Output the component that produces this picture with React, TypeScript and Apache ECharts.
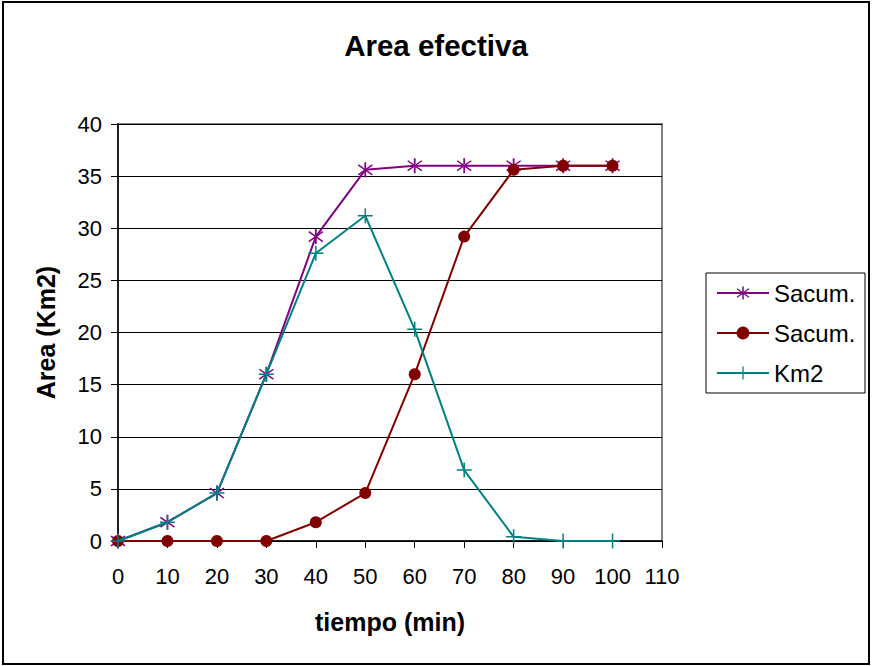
import React, { useEffect, useRef } from "react";
import * as echarts from "echarts";

// Time steps (min) and the three area curves (Km2)
const tiempo = [0, 10, 20, 30, 40, 50, 60, 70, 80, 90, 100];
const sacumA = [0, 1.8, 4.6, 16, 29.2, 35.6, 36, 36, 36, 36, 36];
const sacumB = [0, 0, 0, 0, 1.8, 4.6, 16, 29.2, 35.6, 36, 36];
const km2 = [0, 1.8, 4.6, 16, 27.6, 31.2, 20.3, 6.8, 0.4, 0, 0];

const seriesKeys = ["sacumA", "sacumB", "km2"];
const legendLabels: Record<string, string> = {
  sacumA: "Sacum.",
  sacumB: "Sacum.",
  km2: "Km2",
};

const FONT = "'Liberation Sans', Arial, sans-serif";

// Asterisk: vertical bar plus two diagonal bars
const ASTERISK =
  "path://M9,0 L11,0 L11,20 L9,20 Z M1.5,4.2 L2.5,2.6 L18.5,15.8 L17.5,17.4 Z M1.5,15.8 L2.5,17.4 L18.5,4.2 L17.5,2.6 Z";
const PLUS = "path://M9,0 L11,0 L11,20 L9,20 Z M0,9 L20,9 L20,11 L0,11 Z";

const pairs = (ys: number[]) => tiempo.map((t, i) => [t, ys[i]]);

export default function App() {
  const ref = useRef<HTMLDivElement>(null);

  useEffect(() => {
    if (!ref.current) return;
    const chart = echarts.init(ref.current, undefined, { renderer: "svg" });
    chart.setOption({
      animation: false,
      backgroundColor: "#ffffff",
      title: {
        text: "Area efectiva",
        left: "center",
        top: 25,
        textStyle: { fontFamily: FONT, fontSize: 29.5, fontWeight: "bold", color: "#000" },
      },
      grid: {
        left: 118,
        top: 124,
        right: 210,
        bottom: 125,
        show: true,
        borderColor: "#808080",
        borderWidth: 2,
        backgroundColor: "#ffffff",
      },
      legend: {
        orient: "vertical",
        left: 716,
        top: 281,
        padding: 0,
        itemWidth: 52,
        itemHeight: 16,
        itemGap: 16,
        data: seriesKeys,
        formatter: (name: string) => legendLabels[name],
        textStyle: { fontFamily: FONT, fontSize: 24, color: "#000" },
      },
      xAxis: {
        type: "value",
        min: 0,
        max: 110,
        interval: 10,
        name: "tiempo (min)",
        nameLocation: "middle",
        nameGap: 68,
        nameTextStyle: { fontFamily: FONT, fontSize: 25, fontWeight: "bold", color: "#000" },
        axisLine: { onZero: false, lineStyle: { color: "#000", width: 1.5 } },
        axisTick: { show: true, length: 7, lineStyle: { color: "#000" } },
        axisLabel: { fontFamily: FONT, fontSize: 22, color: "#000", margin: 24 },
        splitLine: { show: false },
      },
      yAxis: {
        type: "value",
        min: 0,
        max: 40,
        interval: 5,
        name: "Area (Km2)",
        nameLocation: "middle",
        nameGap: 60,
        nameTextStyle: { fontFamily: FONT, fontSize: 25, fontWeight: "bold", color: "#000" },
        axisLine: { show: true, lineStyle: { color: "#000", width: 1.5 } },
        axisTick: { show: true, length: 7, lineStyle: { color: "#000" } },
        axisLabel: { fontFamily: FONT, fontSize: 22, color: "#000", margin: 16 },
        splitLine: { show: true, lineStyle: { color: "#000", width: 1 } },
      },
      series: [
        {
          name: "sacumA",
          type: "line",
          data: pairs(sacumA),
          symbol: ASTERISK,
          symbolSize: 15,
          itemStyle: { color: "#800080" },
          lineStyle: { color: "#800080", width: 2 },
          z: 2,
        },
        {
          name: "sacumB",
          type: "line",
          data: pairs(sacumB),
          symbol: "circle",
          symbolSize: 12,
          itemStyle: { color: "#800000" },
          lineStyle: { color: "#800000", width: 2 },
          z: 3,
        },
        {
          name: "km2",
          type: "line",
          data: pairs(km2),
          symbol: PLUS,
          symbolSize: 15,
          itemStyle: { color: "#008080" },
          lineStyle: { color: "#008080", width: 2 },
          z: 4,
        },
      ],
      graphic: [
        {
          type: "rect",
          shape: { x: 3, y: 2, width: 866, height: 662 },
          style: { fill: "none", stroke: "#000", lineWidth: 2 },
          silent: true,
          z: 100,
        },
        {
          type: "rect",
          shape: { x: 706, y: 273, width: 159, height: 120 },
          style: { fill: "none", stroke: "#000", lineWidth: 1 },
          silent: true,
          z: 100,
        },
      ],
    });
    return () => chart.dispose();
  }, []);

  return (
    <div
      ref={ref}
      style={{ position: "fixed", left: 0, top: 0, width: 872, height: 666 }}
    />
  );
}
